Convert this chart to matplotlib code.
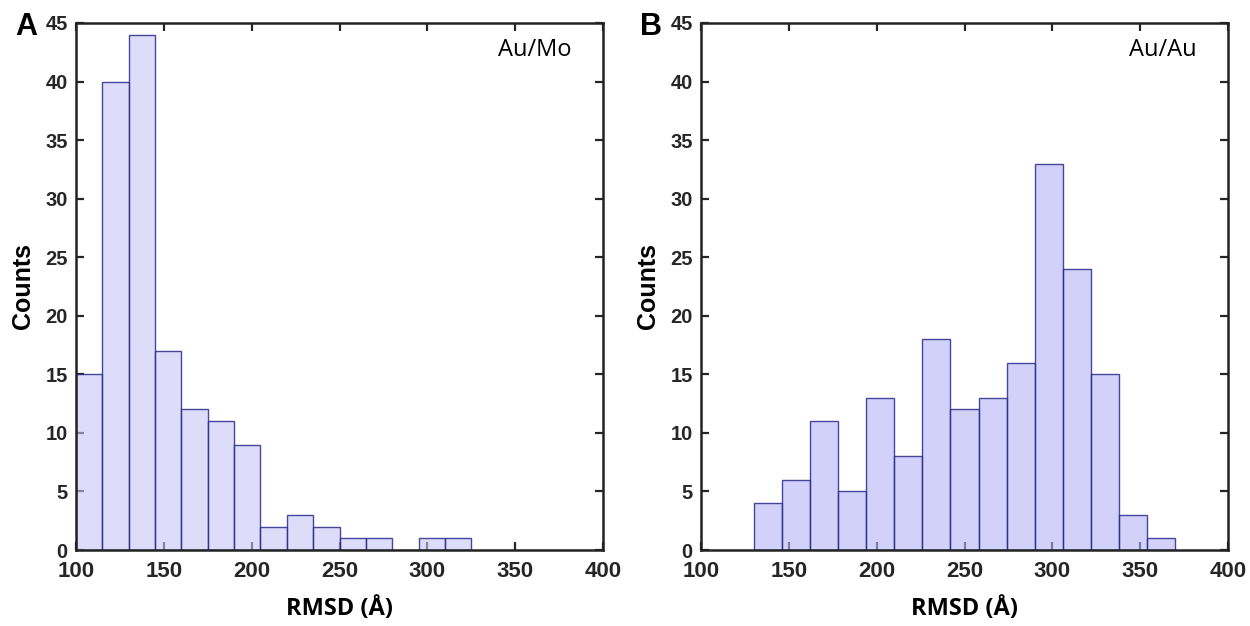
import numpy as np
import matplotlib
matplotlib.use("Agg")
import matplotlib.pyplot as plt

# Au/Mo histogram: bin edges and counts
aumo_edges = [100, 115, 130, 145, 160, 175, 190, 205, 220, 235, 250, 265, 280, 295, 310, 325]
aumo_counts = [15, 40, 44, 17, 12, 11, 9, 2, 3, 2, 1, 1, 0, 1, 1]

# Au/Au histogram: bin edges and counts
auau_edges = [130, 146, 162, 178, 194, 210, 226, 242, 258, 274, 290, 306, 322, 338, 354, 370]
auau_counts = [4, 6, 11, 5, 13, 8, 18, 12, 13, 16, 33, 24, 15, 3, 1]

x_ticks = [100, 150, 200, 250, 300, 350, 400]
y_ticks = [0, 5, 10, 15, 20, 25, 30, 35, 40, 45]

plt.rcParams['font.family'] = ['Liberation Sans', 'DejaVu Sans']

fig = plt.figure(figsize=(12.5, 6.26), dpi=100)
ax_a = fig.add_axes([0.0608, 0.1214, 0.4216, 0.8419])
ax_b = fig.add_axes([0.5608, 0.1214, 0.4216, 0.8419])

panels = [
    (ax_a, aumo_edges, aumo_counts, "A", "Au/Mo", (0.78, 0.78, 0.965, 0.6)),
    (ax_b, auau_edges, auau_counts, "B", "Au/Au", (0.70, 0.70, 0.965, 0.6)),
]

for ax, edges, counts, letter, tag, face in panels:
    edges = np.asarray(edges, dtype=float)
    ax.set_axisbelow(True)
    ax.hist(edges[:-1], bins=edges, weights=counts, facecolor=face,
            edgecolor=(0.16, 0.16, 0.55, 0.85), linewidth=1.0)
    ax.set_xlim(100, 400)
    ax.set_ylim(0, 45)
    ax.set_xticks(x_ticks)
    ax.set_yticks(y_ticks)
    ax.tick_params(direction="in", top=True, right=True, length=6, width=1.6,
                   colors="#262626")
    ax.tick_params(axis="x", labelsize=16, pad=8)
    ax.tick_params(axis="y", labelsize=14.5, pad=6)
    for lab in ax.get_xticklabels() + ax.get_yticklabels():
        lab.set_fontweight("bold")
    for sp in ax.spines.values():
        sp.set_linewidth(1.8)
        sp.set_color("#222222")
        sp.set_zorder(3)
    ax.set_ylabel("Counts", fontsize=18, fontweight="bold", labelpad=7)
    ax.set_xlabel("RMSD (Å)", fontsize=17, fontweight="bold", labelpad=11,
                  family=["Open Sans", "DejaVu Sans"])
    ax.text(0.941, 0.949, tag, transform=ax.transAxes, ha="right", va="center",
            fontsize=17, family=["Open Sans", "DejaVu Sans"])
    ax.text(-0.095, 0.993, letter, transform=ax.transAxes, ha="center", va="center",
            fontsize=22, fontweight="bold")

fig.savefig("out.png", dpi=100, facecolor="white")
